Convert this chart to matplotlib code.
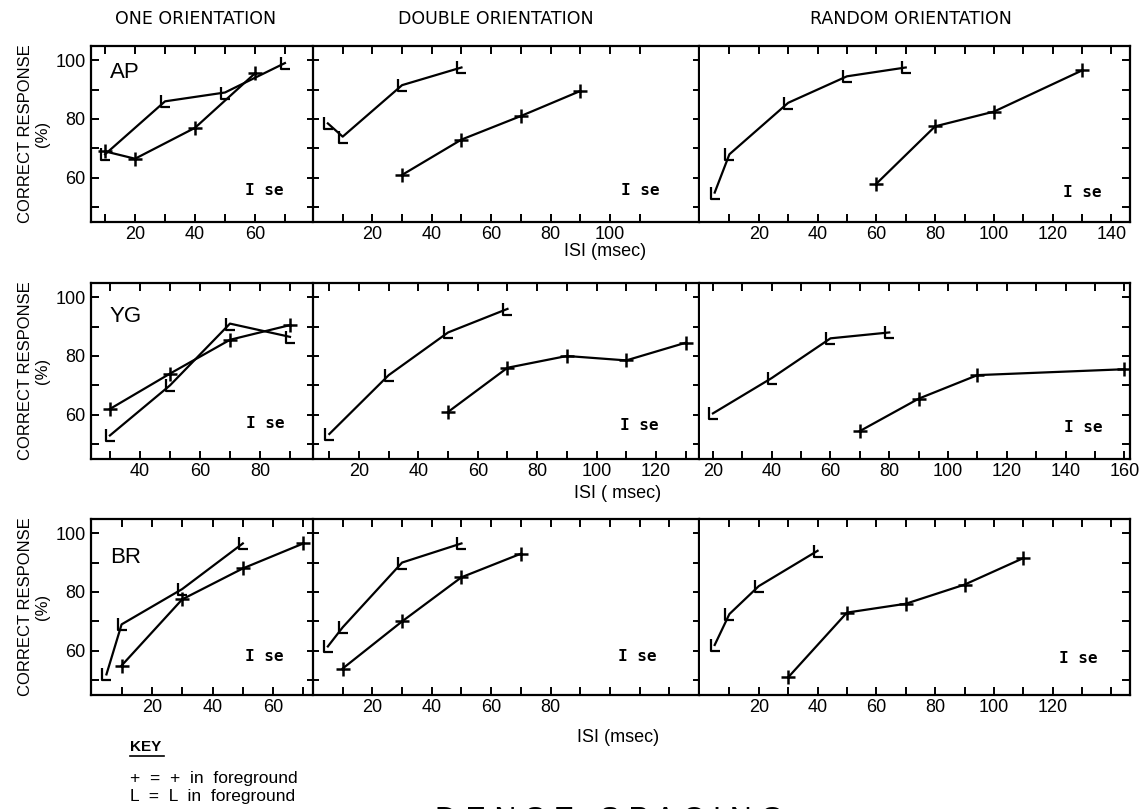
import matplotlib
matplotlib.use('Agg')
import matplotlib.pyplot as plt
from matplotlib.path import Path

plt.rcParams['font.family'] = ['Liberation Sans', 'DejaVu Sans']

W, H = 1145, 809

subjects = ['AP', 'YG', 'BR']
conditions = ['ONE ORIENTATION', 'DOUBLE ORIENTATION', 'RANDOM ORIENTATION']

# ---- data: ISI (msec) and correct response (%) ----
# AP
ap_one_plus_x = [10, 20, 40, 60];        ap_one_plus_y = [69, 66.5, 77, 95.5]
ap_one_L_x = [10, 30, 50, 70];           ap_one_L_y = [68, 86, 89, 99]
ap_dbl_plus_x = [30, 50, 70, 90];        ap_dbl_plus_y = [61, 73, 81, 89.5]
ap_dbl_L_x = [5, 10, 30, 50];            ap_dbl_L_y = [78.5, 74, 91.5, 97.5]
ap_rnd_plus_x = [60, 80, 100, 130];      ap_rnd_plus_y = [58, 77.5, 82.5, 96.5]
ap_rnd_L_x = [5, 10, 30, 50, 70];        ap_rnd_L_y = [55, 68, 85.5, 94.5, 97.5]
# YG
yg_one_plus_x = [30, 50, 70, 90];        yg_one_plus_y = [62, 74, 85.5, 90.5]
yg_one_L_x = [30, 50, 70, 90];           yg_one_L_y = [53, 70, 91, 86.5]
yg_dbl_plus_x = [50, 70, 90, 110, 130];  yg_dbl_plus_y = [61, 76, 80, 78.5, 84.5]
yg_dbl_L_x = [10, 30, 50, 70];           yg_dbl_L_y = [53.5, 73.5, 88, 96]
yg_rnd_plus_x = [70, 90, 110, 160];      yg_rnd_plus_y = [54.5, 65.5, 73.5, 75.5]
yg_rnd_L_x = [20, 40, 60, 80];           yg_rnd_L_y = [60.5, 72.5, 86, 88]
# BR
br_one_plus_x = [10, 30, 50, 70];        br_one_plus_y = [55, 77.5, 88, 96.5]
br_one_L_x = [5, 10, 30, 50];            br_one_L_y = [52, 69, 81, 96.5]
br_dbl_plus_x = [10, 30, 50, 70];        br_dbl_plus_y = [54, 70, 85, 93]
br_dbl_L_x = [5, 10, 30, 50];            br_dbl_L_y = [61.5, 68, 90, 96.5]
br_rnd_plus_x = [30, 50, 70, 90, 110];   br_rnd_plus_y = [51, 73, 76, 82.5, 91.5]
br_rnd_L_x = [5, 10, 20, 40];            br_rnd_L_y = [62, 72.5, 82, 94]

series = [
    [(ap_one_plus_x, ap_one_plus_y, ap_one_L_x, ap_one_L_y),
     (ap_dbl_plus_x, ap_dbl_plus_y, ap_dbl_L_x, ap_dbl_L_y),
     (ap_rnd_plus_x, ap_rnd_plus_y, ap_rnd_L_x, ap_rnd_L_y)],
    [(yg_one_plus_x, yg_one_plus_y, yg_one_L_x, yg_one_L_y),
     (yg_dbl_plus_x, yg_dbl_plus_y, yg_dbl_L_x, yg_dbl_L_y),
     (yg_rnd_plus_x, yg_rnd_plus_y, yg_rnd_L_x, yg_rnd_L_y)],
    [(br_one_plus_x, br_one_plus_y, br_one_L_x, br_one_L_y),
     (br_dbl_plus_x, br_dbl_plus_y, br_dbl_L_x, br_dbl_L_y),
     (br_rnd_plus_x, br_rnd_plus_y, br_rnd_L_x, br_rnd_L_y)],
]

# x tick positions and labels per panel
x_ticks = [
    [list(range(10, 80, 10)), list(range(10, 120, 10)), list(range(10, 150, 10))],
    [list(range(30, 100, 10)), list(range(10, 140, 10)), list(range(20, 170, 10))],
    [list(range(10, 80, 10)), list(range(10, 130, 10)), list(range(10, 150, 10))],
]
x_labels = [
    [[20, 40, 60], [20, 40, 60, 80, 100], [20, 40, 60, 80, 100, 120, 140]],
    [[40, 60, 80], [20, 40, 60, 80, 100, 120], [20, 40, 60, 80, 100, 120, 140, 160]],
    [[20, 40, 60], [20, 40, 60, 80], [20, 40, 60, 80, 100, 120]],
]
x_limits = [
    [(5.3, 78.7), (0, 130), (0, 146.3)],
    [(23.7, 97.0), (4.5, 134.5), (15.6, 161.9)],
    [(-0.1, 72.5), (0, 130), (0, 146.3)],
]
y_ticks = [50, 60, 70, 80, 90, 100]
y_labels = ['', '60', '', '80', '', '100']

# layout in pixels
cols_px = [(91, 311), (313, 699), (700, 1130)]
rows_px = [(46, 222), (283, 459), (519, 695)]

Lmark = Path([(-0.35, 0.5), (-0.35, -0.5), (0.4, -0.5)],
             [Path.MOVETO, Path.LINETO, Path.LINETO])

fig = plt.figure(figsize=(W / 100, H / 100), dpi=100)

se_pos = [[(0.873, 0.18), (0.898, 0.18), (0.933, 0.17)],
          [(0.878, 0.20), (0.895, 0.19), (0.935, 0.18)],
          [(0.873, 0.22), (0.890, 0.22), (0.925, 0.21)]]
subj_y = [0.85, 0.81, 0.78]
title_x = [196, 496, 911]

for r, (top, bot) in enumerate(rows_px):
    for c, (left, right) in enumerate(cols_px):
        ax = fig.add_axes([left / W, 1 - bot / H, (right - left) / W, (bot - top) / H])
        px, py, lx, ly = series[r][c]
        ax.plot(px, py, color='black', lw=1.6, marker='+', ms=10, mew=1.8)
        ax.plot(lx, ly, color='black', lw=1.6, marker=Lmark, ms=9, mew=1.6,
                mfc='none')
        ax.set_xlim(*x_limits[r][c])
        ax.set_ylim(45, 104.8)
        ax.set_xticks(x_ticks[r][c])
        ax.set_xticklabels([str(t) if t in x_labels[r][c] else '' for t in x_ticks[r][c]],
                           fontsize=13)
        ax.set_yticks(y_ticks)
        for s in ax.spines.values():
            s.set_linewidth(1.6)
        ax.tick_params(axis='x', which='both', direction='in', top=True,
                       length=6, width=1.4, pad=3)
        if c == 0:
            ax.set_yticklabels(y_labels, fontsize=13)
            ax.tick_params(axis='y', direction='in', left=True, right=False,
                           length=6, width=1.4, pad=4)
            ax.spines['right'].set_visible(False)
            ax.set_ylabel('CORRECT RESPONSE\n(%)', fontsize=12, labelpad=4,
                          linespacing=1.1)
            ax.text(0.085, subj_y[r], subjects[r], transform=ax.transAxes,
                    fontsize=16, va='center', ha='left')
        elif c == 1:
            ax.set_yticklabels([])
            ax.tick_params(axis='y', direction='inout', left=True, right=True,
                           length=9, width=1.4)
        else:
            ax.set_yticklabels([])
            ax.spines['left'].set_visible(False)
            ax.tick_params(axis='y', direction='in', left=False, right=True,
                           length=6, width=1.4)
        sx, sy = se_pos[r][c]
        ax.text(sx, sy, 'I se', transform=ax.transAxes, ha='right', va='center',
                fontsize=11.5, fontweight='bold', family='DejaVu Sans Mono')
        if r == 0:
            fig.text(title_x[c] / W, 1 - 19 / H, conditions[c], fontsize=12.5,
                     family='DejaVu Sans', ha='center', va='center')

# ISI labels
fig.text(605 / W, 1 - 252 / H, 'ISI (msec)', fontsize=13, ha='center', va='center')
fig.text(618 / W, 1 - 494 / H, 'ISI ( msec)', fontsize=13, ha='center', va='center')
fig.text(618 / W, 1 - 738 / H, 'ISI (msec)', fontsize=13, ha='center', va='center')

# key
fig.text(130 / W, 1 - 747 / H, 'KEY', fontsize=11, fontweight='bold', ha='left', va='center')
fig.add_artist(plt.Line2D([130 / W, 164 / W], [1 - 756 / H, 1 - 756 / H],
                          color='black', lw=1.2))
fig.text(130 / W, 1 - 778 / H, '+  =  +  in  foreground', fontsize=12.5,
         ha='left', va='center')
fig.text(130 / W, 1 - 797 / H, 'L  =  L  in  foreground', fontsize=12.5,
         ha='left', va='center')

fig.text(609 / W, 1 - 806 / H, 'D E N S E   S P A C I N G', fontsize=22,
         ha='center', va='top')

fig.savefig('out.png', dpi=100)
